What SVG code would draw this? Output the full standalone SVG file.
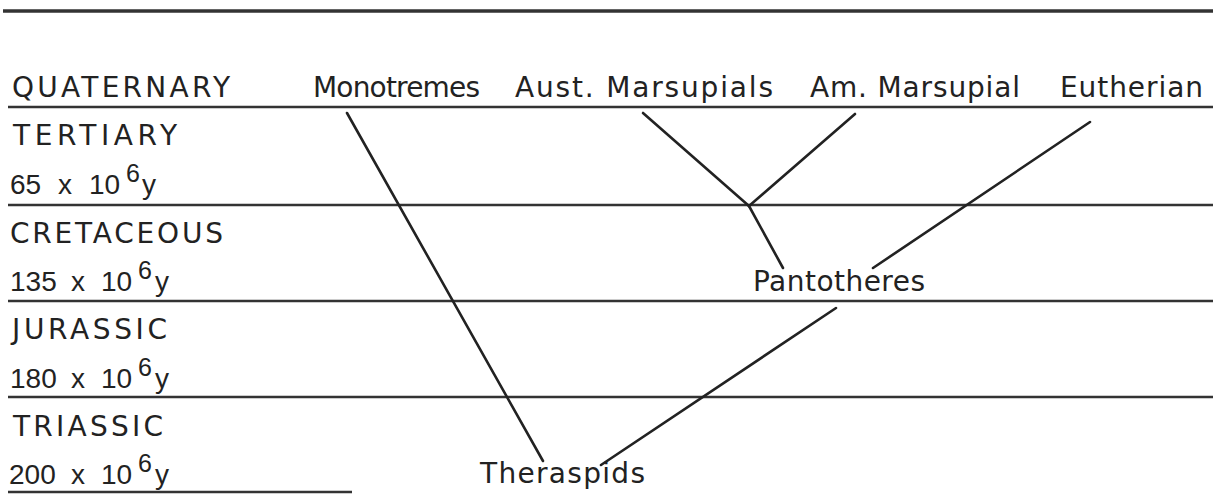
<svg xmlns="http://www.w3.org/2000/svg" width="1228" height="494" viewBox="0 0 1228 494">
<style>
text{font-family:"DejaVu Sans","Liberation Sans",sans-serif;font-size:28px;fill:#222}
.age{font-family:"Liberation Sans","DejaVu Sans",sans-serif;font-size:28px}
.sup{font-size:25px}
.rule{stroke:#333;stroke-width:2.4}
.edge{stroke:#222;stroke-width:2.6;stroke-linecap:round;fill:none}
</style>
<rect width="1228" height="494" fill="#fff"/>
<g id="rules">
<line class="rule" x1="3" y1="11" x2="1213" y2="11" style="stroke-width:3.5"/>
<line class="rule" x1="8" y1="107" x2="1213" y2="107"/>
<line class="rule" x1="8" y1="205" x2="1213" y2="205"/>
<line class="rule" x1="8" y1="301" x2="1213" y2="301"/>
<line class="rule" x1="8" y1="397" x2="1213" y2="397"/>
<line class="rule" x1="8" y1="492" x2="352" y2="492"/>
</g>
<g id="periods">
<text x="12" y="97" textLength="218" lengthAdjust="spacing">QUATERNARY</text>
<text x="13" y="145" textLength="164" lengthAdjust="spacing">TERTIARY</text>
<text class="age" y="194"><tspan x="10">65</tspan><tspan x="58">x</tspan><tspan x="89">10</tspan><tspan class="sup" x="126" y="182">6</tspan><tspan x="142" y="194">y</tspan></text>
<text x="10" y="243" textLength="213" lengthAdjust="spacing">CRETACEOUS</text>
<text class="age" y="291"><tspan x="10">135</tspan><tspan x="71">x</tspan><tspan x="101">10</tspan><tspan class="sup" x="138" y="279">6</tspan><tspan x="155" y="291">y</tspan></text>
<text x="12" y="339" textLength="155" lengthAdjust="spacing">JURASSIC</text>
<text class="age" y="388"><tspan x="10">180</tspan><tspan x="71">x</tspan><tspan x="101">10</tspan><tspan class="sup" x="138" y="376">6</tspan><tspan x="155" y="388">y</tspan></text>
<text x="13" y="436" textLength="150" lengthAdjust="spacing">TRIASSIC</text>
<text class="age" y="484"><tspan x="9">200</tspan><tspan x="71">x</tspan><tspan x="101">10</tspan><tspan class="sup" x="138" y="472">6</tspan><tspan x="155" y="484">y</tspan></text>
</g>
<g id="monotremes"><text x="313" y="97" textLength="167" lengthAdjust="spacing">Monotremes</text></g>
<g id="aust-marsupials"><text x="515" y="97" textLength="258" lengthAdjust="spacing">Aust. Marsupials</text></g>
<g id="am-marsupial"><text x="810" y="97" textLength="210" lengthAdjust="spacing">Am. Marsupial</text></g>
<g id="eutherian"><text x="1060" y="97" textLength="143" lengthAdjust="spacing">Eutherian</text></g>
<g id="pantotheres"><text x="753" y="291" textLength="172" lengthAdjust="spacing">Pantotheres</text></g>
<g id="theraspids"><text x="480" y="483" textLength="165" lengthAdjust="spacing">Theraspids</text></g>
<g id="connectors">
<line class="edge" x1="347" y1="113" x2="543" y2="461"/>
<line class="edge" x1="643" y1="113" x2="749" y2="206"/>
<line class="edge" x1="855" y1="114" x2="749" y2="206"/>
<line class="edge" x1="749" y1="206" x2="783" y2="268"/>
<line class="edge" x1="1090" y1="122" x2="873" y2="268"/>
<line class="edge" x1="836" y1="308" x2="601" y2="465"/>
</g>
</svg>
